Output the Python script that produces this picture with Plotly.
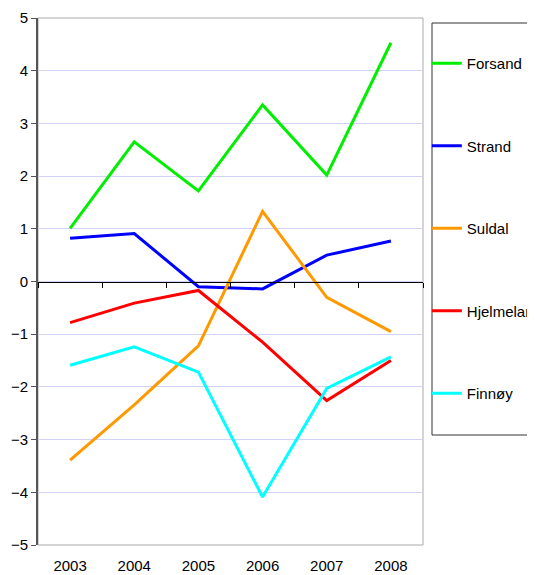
import plotly.graph_objects as go

years = ["2003", "2004", "2005", "2006", "2007", "2008"]
names = ["Forsand", "Strand", "Suldal", "Hjelmeland", "Finnøy"]
forsand = [1.01, 2.65, 1.72, 3.35, 2.02, 4.53]
strand = [0.82, 0.91, -0.10, -0.14, 0.50, 0.77]
suldal = [-3.39, -2.34, -1.22, 1.33, -0.30, -0.95]
hjelmeland = [-0.78, -0.41, -0.17, -1.15, -2.26, -1.50]
finnoy = [-1.59, -1.24, -1.72, -4.09, -2.03, -1.43]
colors = ["#00ee00", "#0000ff", "#ff9900", "#ff0000", "#00ffff"]
series = [forsand, strand, suldal, hjelmeland, finnoy]
y_ticks = [-5, -4, -3, -2, -1, 0, 1, 2, 3, 4, 5]

font = "Liberation Sans, Arial, sans-serif"
xs = list(range(len(years)))

fig = go.Figure()
for i, (nm, vals, c) in enumerate(zip(names, series, colors)):
    fig.add_trace(go.Scatter(x=xs, y=vals, mode="lines", name=nm,
                             line=dict(color=c, width=3),
                             legendgroup=f"g{i}"))

# invisible trace on x2 to activate the zero-line axis
fig.add_trace(go.Scatter(x=[xs[0]], y=[0], xaxis="x2", mode="none",
                         showlegend=False, hoverinfo="skip"))

fig.update_layout(
    width=535, height=567,
    margin=dict(l=30, r=120, t=10, b=30, autoexpand=False),
    paper_bgcolor="white", plot_bgcolor="white",
    font=dict(family=font, size=15, color="black"),
    xaxis=dict(range=[-0.5, 5.5], tickvals=xs, ticktext=years,
               showgrid=False, zeroline=False, showline=False,
               ticks="", tickfont=dict(size=15), ticklabelstandoff=10),
    xaxis2=dict(range=[-0.5, 5.5], overlaying="x", anchor="free", position=0.5,
                tick0=-0.5, dtick=1, showticklabels=False, ticks="outside",
                ticklen=5, tickcolor="black", showline=True, linecolor="black",
                linewidth=1, showgrid=False, zeroline=False),
    yaxis=dict(range=[-5, 5], tickvals=y_ticks, showgrid=True, gridcolor="#d2d2f8",
               gridwidth=1, zeroline=False, showline=True, linecolor="#555555",
               linewidth=2, ticks="outside", ticklen=5, tickcolor="#555555",
               tickfont=dict(size=15)),
    legend=dict(x=1.01, y=0.945, xanchor="left", yanchor="top",
                borderwidth=0, bgcolor="rgba(0,0,0,0)",
                font=dict(size=15), tracegroupgap=60, itemwidth=30),
    shapes=[
        dict(type="rect", xref="paper", yref="paper", x0=0, x1=1, y0=0, y1=1,
             line=dict(color="#aaaaaa", width=1), layer="below"),
        dict(type="rect", xref="paper", yref="paper", x0=1.0234, x1=1.4,
             y0=0.2087, y1=0.9905, line=dict(color="#333333", width=1),
             layer="below"),
    ],
)

fig.write_html("out.html")
